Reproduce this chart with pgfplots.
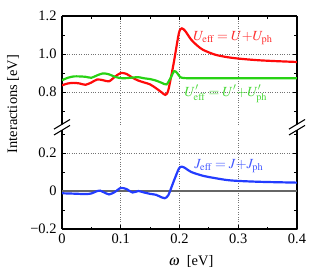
\documentclass[border=0pt]{standalone}
\usepackage{mathptmx}
\usepackage{fontspec}
\setmainfont{Liberation Serif}
\usepackage{pgfplots}
\pgfplotsset{compat=1.18}
\definecolor{cred}{RGB}{255,10,10}
\definecolor{cgreen}{RGB}{40,210,20}
\definecolor{cblue}{RGB}{35,60,255}
\pgfplotsset{brk/.style={
  scale only axis, width=235bp, xmin=0, xmax=0.4,
  xtick={0,0.1,0.2,0.3,0.4}, minor xtick={0.05,0.15,0.25,0.35},
  tick align=inside, major tick length=4bp, minor tick length=2.5bp,
  grid=major, major grid style={black!55, dotted, line width=0.6pt},
  axis line style={line width=1.2pt, -},
  every tick/.style={black, line width=0.9pt},
  tick label style={font=\fontsize{14.5}{16}\selectfont},
  yticklabel style={xshift=-2bp},
  xticklabel style={yshift=-1bp},
  clip=true,
}}
\begin{document}
\begin{tikzpicture}
\useasboundingbox (-62bp,-51bp) rectangle (253bp,229bp);
\begin{axis}[brk, at={(0,104.7bp)}, anchor=south west, height=108.3bp,
  ymin=0.63, ymax=1.2, axis x line*=top, axis y line*=box,
  ytick={0.8,1.0,1.2}, yticklabels={0.8,1.0,1.2}, minor ytick={0.7,0.9,1.1},
  xticklabels={}]
\addplot[cred, line width=2.2pt, smooth, tension=0.45] coordinates {
(0,0.835) (0.01,0.845) (0.02,0.848) (0.03,0.845) (0.04,0.838) (0.05,0.850)
(0.06,0.866) (0.07,0.862) (0.08,0.856) (0.09,0.880) (0.10,0.900) (0.11,0.895)
(0.12,0.875) (0.13,0.860) (0.14,0.850) (0.15,0.840) (0.16,0.820) (0.17,0.797)
(0.176,0.785) (0.181,0.81) (0.19,0.95) (0.199,1.11) (0.204,1.135) (0.21,1.12)
(0.22,1.075) (0.23,1.045) (0.24,1.022) (0.26,0.997) (0.28,0.984) (0.30,0.976)
(0.33,0.968) (0.36,0.963) (0.40,0.958)};
\addplot[cgreen, line width=2.2pt, smooth, tension=0.45] coordinates {
(0,0.862) (0.01,0.875) (0.02,0.882) (0.03,0.882) (0.04,0.880) (0.05,0.875)
(0.06,0.888) (0.07,0.898) (0.08,0.893) (0.09,0.880) (0.10,0.873) (0.11,0.873)
(0.12,0.876) (0.13,0.878) (0.14,0.872) (0.15,0.868) (0.16,0.860) (0.17,0.848)
(0.178,0.840) (0.185,0.875) (0.191,0.910) (0.196,0.900) (0.201,0.879) (0.21,0.873)
(0.25,0.872) (0.30,0.872) (0.40,0.872)};
\node[cgreen!85!white, font=\fontsize{14}{16}\selectfont] at (axis cs:0.279,0.790) {$U'_{\mathrm{eff}}=U'{+}U'_{\mathrm{ph}}$};
\node[cred!85!white, font=\fontsize{14}{16}\selectfont] at (axis cs:0.291,1.084) {$U_{\mathrm{eff}}=U{+}U_{\mathrm{ph}}$};
\end{axis}
\begin{axis}[brk, at={(0,0)}, anchor=south west, height=98.8bp,
  ymin=-0.2, ymax=0.32, axis x line*=bottom, axis y line*=box,
  ytick={-0.2,0,0.2}, yticklabels={−0.2,0,0.2}, minor ytick={-0.1,0.1,0.3},
  xticklabels={0,0.1,0.2,0.3,0.4}]
\addplot[black!60, line width=1.1pt] coordinates {(0,0) (0.4,0)};
\addplot[cblue, line width=2.2pt, smooth, tension=0.45] coordinates {
(0,-0.012) (0.02,-0.014) (0.04,-0.016) (0.05,-0.013) (0.06,0.000) (0.065,0.002)
(0.07,-0.005) (0.08,-0.018) (0.09,-0.005) (0.10,0.016) (0.11,0.010) (0.12,-0.008)
(0.13,0.000) (0.14,-0.008) (0.15,-0.015) (0.16,-0.020) (0.17,-0.034) (0.175,-0.038)
(0.181,-0.022) (0.19,0.05) (0.199,0.118) (0.204,0.128) (0.21,0.12) (0.22,0.10)
(0.24,0.08) (0.26,0.068) (0.28,0.058) (0.30,0.053) (0.34,0.048) (0.40,0.044)};
\node[cblue!85!white, font=\fontsize{14}{16}\selectfont] at (axis cs:0.284,0.132) {$J_{\mathrm{eff}}=J{+}J_{\mathrm{ph}}$};
\end{axis}
\draw[line width=1.1pt] (-8bp,99.9bp) -- (8bp,109.5bp);
\draw[line width=1.1pt] (-8bp,94.0bp) -- (8bp,103.6bp);
\draw[line width=1.1pt] (227bp,99.9bp) -- (243bp,109.5bp);
\draw[line width=1.1pt] (227bp,94.0bp) -- (243bp,103.6bp);
\node[rotate=90, font=\fontsize{14.5}{16}\selectfont] at (-49bp,125bp) {Interactions [eV]};
\node[font=\fontsize{14.5}{16}\selectfont] at (129bp,-32bp) {$\omega$ \ [eV]};
\end{tikzpicture}
\end{document}
